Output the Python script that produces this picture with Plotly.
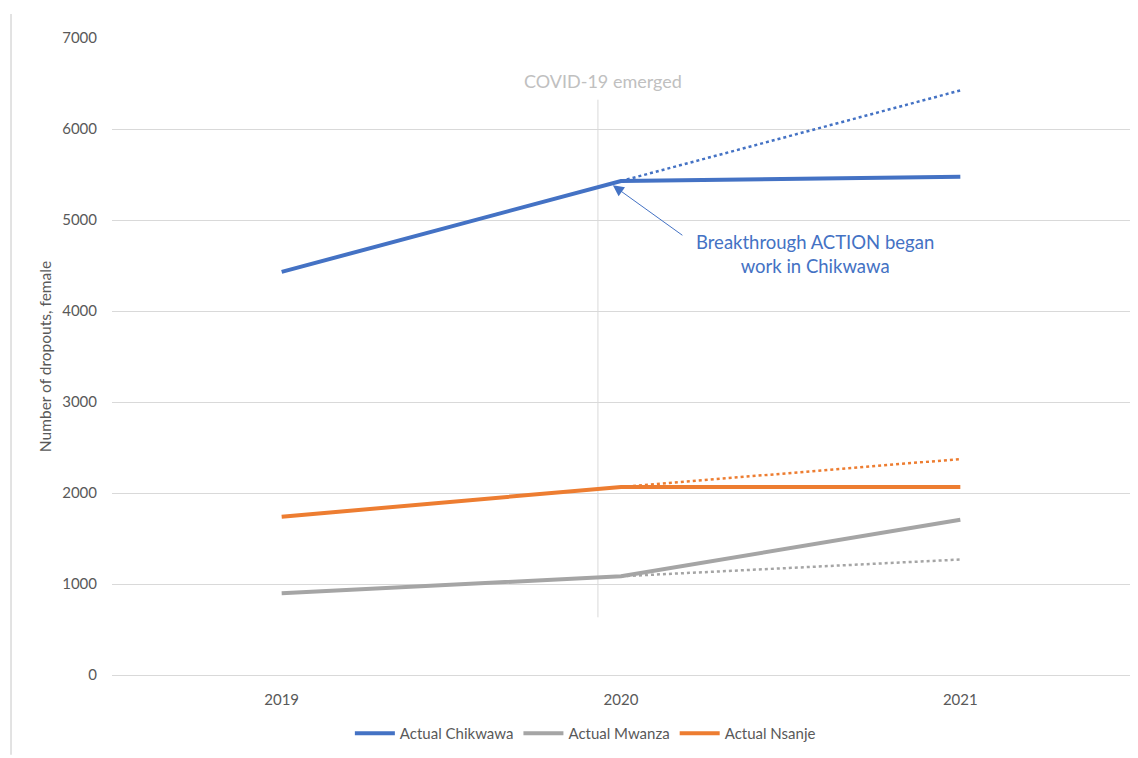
import plotly.graph_objects as go

# Female dropouts by district
years = ["2019", "2020", "2021"]
chikwawa = [4430, 5428, 5476]
mwanza = [897, 1085, 1706]
nsanje = [1739, 2067, 2067]

# Projected trend from 2020 to 2021 (dotted)
proj_years = ["2020", "2021"]
chikwawa_proj = [5428, 6424]
mwanza_proj = [1085, 1269]
nsanje_proj = [2067, 2373]

y_ticks = [0, 1000, 2000, 3000, 4000, 5000, 6000, 7000]

BLUE = "#4472C4"
GRAY = "#A5A5A5"
ORANGE = "#ED7D31"
FONT = "Lato, Open Sans, sans-serif"

fig = go.Figure()

for name, vals, proj, col in [
    ("Actual Chikwawa", chikwawa, chikwawa_proj, BLUE),
    ("Actual Mwanza", mwanza, mwanza_proj, GRAY),
    ("Actual Nsanje", nsanje, nsanje_proj, ORANGE),
]:
    fig.add_trace(go.Scatter(
        x=proj_years, y=proj, mode="lines", showlegend=False,
        line=dict(color=col, width=2.5, dash="dot"), hoverinfo="skip",
    ))

for name, vals, col in [
    ("Actual Chikwawa", chikwawa, BLUE),
    ("Actual Mwanza", mwanza, GRAY),
    ("Actual Nsanje", nsanje, ORANGE),
]:
    fig.add_trace(go.Scatter(
        x=years, y=vals, mode="lines", name=name,
        line=dict(color=col, width=4),
    ))

# COVID-19 marker line
fig.add_shape(type="line", xref="x", yref="y", x0=0.932, x1=0.932, y0=634, y1=6322,
              line=dict(color="#D9D9D9", width=1), layer="below")
# chart area left border
fig.add_shape(type="line", xref="paper", yref="paper", x0=-0.0992, x1=-0.0992,
              y0=1.0375, y1=-0.125, line=dict(color="#D9D9D9", width=1.5))

fig.add_annotation(x=0.947, y=6530, xref="x", yref="y", text="COVID-19 emerged",
                   showarrow=False, font=dict(family=FONT, size=18, color="#C0C0C0"))
fig.add_annotation(x=0.976, y=5381, xref="x", yref="y", text="", showarrow=True,
                   ax=71, ay=51, arrowhead=2, arrowsize=2.2, arrowwidth=1,
                   arrowcolor=BLUE)
fig.add_annotation(x=1.572, y=4627, xref="x", yref="y",
                   text="Breakthrough ACTION began<br>work in Chikwawa",
                   showarrow=False, align="center",
                   font=dict(family=FONT, size=18.5, color=BLUE))

fig.update_layout(
    width=1138, height=758,
    margin=dict(l=112, r=8, t=38, b=80),
    plot_bgcolor="white", paper_bgcolor="white",
    font=dict(family=FONT, color="#595959"),
    showlegend=True,
    legend=dict(orientation="h", x=0.465, xanchor="center", y=-0.092, yanchor="middle",
                font=dict(size=15, color="#595959"), itemwidth=40,
                traceorder="normal"),
    xaxis=dict(type="category", categoryorder="array", categoryarray=years,
               range=[-0.5, 2.5], showgrid=False, showline=False,
               zeroline=False, tickfont=dict(size=15, color="#595959"),
               ticklabelstandoff=14),
    yaxis=dict(range=[0, 7000], tickvals=y_ticks, showgrid=True, gridcolor="#D9D9D9",
               gridwidth=1, zeroline=True, zerolinecolor="#D9D9D9", zerolinewidth=1,
               showline=False, tickfont=dict(size=15, color="#595959"),
               ticklabelstandoff=14,
               title=dict(text="Number of dropouts, female", standoff=6,
                          font=dict(size=15.5, color="#595959"))),
)

fig.write_html("out.html")
